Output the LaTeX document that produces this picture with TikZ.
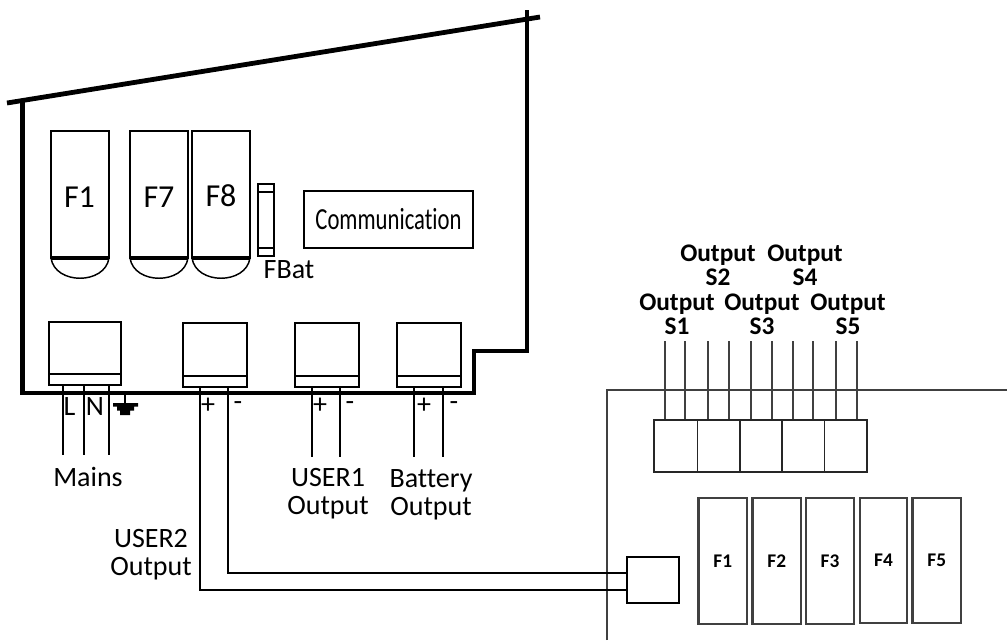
\documentclass[tikz,border=0pt]{standalone}
\usepackage{fontspec}
\setmainfont[Ligatures=NoCommon]{Carlito}
\definecolor{panel}{HTML}{404040}
\tikzset{
  x=0.75pt,y=-0.75pt,
  wall/.style={line width=3.6pt,black,line cap=butt,line join=miter},
  part/.style={draw=black,line width=1.5pt,fill=white,outer sep=0pt,inner sep=0pt},
  wire/.style={draw=black,line width=1.5pt},
  thin wire/.style={draw=panel,line width=0.95pt},
  lab/.style={inner sep=0pt,font=\fontsize{21}{21}\selectfont,align=center,text=black},
  blab/.style={inner sep=0pt,font=\fontsize{19}{18}\selectfont\bfseries,align=center,text=black},
  flab/.style={inner sep=0pt,font=\fontsize{14.5}{15}\selectfont\bfseries,text=black},
  fuselab/.style={inner sep=0pt,font=\fontsize{24}{26}\selectfont,text=black},
}
\newcommand{\fuse}[3]{% name, left, right
  \draw[black,line width=1.1pt] (#2,258) .. controls (#2+4,285) and (#3-4,285) .. (#3,258);
  \draw[black,line width=1.5pt] (#2,131) rectangle (#3,258);
  \draw[black,line width=2.6pt] (#2,258) -- (#3,258);
}
\newcommand{\term}[6]{% name left top right inner bottom
  \node[part,anchor=north west,minimum width={(#4-#2)*0.75pt},minimum height={(#6-#3)*0.75pt}] (#1) at (#2,#3) {};
  \draw[black,line width=1.5pt] (#2,#5) -- (#4,#5);
}
\begin{document}
\begin{tikzpicture}
\useasboundingbox (0,0) rectangle (1007,640);
% main enclosure
\coordinate (tl) at (7,103); \coordinate (tr) at (540,17);
\coordinate (a) at (22.5,100.5); \coordinate (b) at (22.5,393);
\coordinate (c) at (474,393); \coordinate (d) at (474,351);
\coordinate (e) at (527,351); \coordinate (f) at (527,10);
\draw[wall] (tl) -- (tr);
\draw[wall] (a) -- (b) -- (c) -- (d) -- (e) -- (f);
% right panel
\coordinate (p1) at (607,640); \coordinate (p2) at (607,390); \coordinate (p3) at (1007,390);
\draw[panel,line width=1.5pt] (p1) -- (p2) -- (p3);
% fuses
\fuse{f1}{51}{109}
\fuse{f7}{130}{188}
\fuse{f8}{192}{250}
\node[fuselab] (tf1) at (79.5,197) {F1};
\node[fuselab] (tf7) at (159,197) {F7};
\node[fuselab] (tf8) at (221,196) {F8};
% FBat
\node[part,anchor=north west,minimum width=12pt,minimum height=54pt] (fb) at (258,184) {};
\draw[black,line width=1.1pt] (258,192) -- (274,192) (258,248) -- (274,248);
\node[lab] (tfb) at (289,270) {FBat};
% communication
\node[draw=black,line width=1.1pt,outer sep=0pt,inner sep=0pt,minimum width=126.75pt,minimum height=42.75pt,font=\fontsize{23}{25}\selectfont] (comm) at (388.5,219.5) {\scalebox{0.74}[1]{Communication}};
% terminals
\term{tm}{49}{321.5}{120.5}{374}{385}
\term{tu2}{183}{323}{247}{375.5}{387}
\term{tu1}{295}{323}{359}{375.5}{387}
\term{tb}{397}{323}{461}{375.5}{387}
% wires
\coordinate (w1) at (63,455); \coordinate (w2) at (84,455); \coordinate (w3) at (109,455);
\draw[wire] (63,385) -- (w1) (84,385) -- (w2) (109,385) -- (w3);
\coordinate (u1a) at (312,457); \coordinate (u1b) at (340,457);
\coordinate (ba) at (414,457); \coordinate (bb) at (443,457);
\draw[wire] (312,387) -- (u1a) (340,387) -- (u1b) (414,387) -- (ba) (443,387) -- (bb);
% small box
\node[part,anchor=north west,minimum width=39pt,minimum height=34.5pt] (sb) at (627,557) {};
\draw[wire] (200,387) |- (627,590);
\draw[wire] (228,387) |- (627,573);
% labels of terminals
\node[lab] (tL) at (69.5,407) {L};
\node[lab] (tN) at (95,407) {N};
\node[lab] (t1) at (208,406) {+};
\node[lab] (t2) at (238,406) {-};
\node[lab] (t3) at (320,406) {+};
\node[lab] (t4) at (350,406) {-};
\node[lab] (t5) at (424,406) {+};
\node[lab] (t6) at (454,406) {-};
% earth
\coordinate (g0) at (125,395);
\draw[black,line width=1.2pt] (g0) -- (125,404);
\fill[black] (113,403) -- (138,403) -- (138,406.5) -- (134,406.5) -- (134,410.5) -- (130,410.5) -- (130,415) -- (120,415) -- (120,410.5) -- (117,410.5) -- (117,406.5) -- (113,406.5) -- cycle;
% text
\node[lab] (tmains) at (88,477) {Mains};
\node[lab] (tuser1) at (328,494) {USER1\\Output};
\node[lab] (tbat) at (431,495) {Battery\\Output};
\node[lab] (tuser2) at (151,555) {USER2\\Output};
% output wires and terminal block
\foreach \x [count=\i] in {665,685,708,729,751,772,793,813,836,857}
  \draw[thin wire] (\x,341) -- (\x,420);
\draw[black!85,line width=1.1pt] (654,420) rectangle (867,472);
\foreach \x in {697.5,740,782,824.5}
  \draw[black!85,line width=1.1pt] (\x,420) -- (\x,472);
\node[blab] (s2) at (718,265) {Output\\S2};
\node[blab] (s4) at (805,265) {Output\\S4};
\node[blab] (s1) at (677,314) {Output\\S1};
\node[blab] (s3) at (762,314) {Output\\S3};
\node[blab] (s5) at (848,314) {Output\\S5};
% fuse row
\foreach \l/\r/\b/\t/\ty in {698.5/747/624/F1/561,752.5/801/624/F2/561,806/854/624/F3/561,860/907/623/F4/560,912.5/961/623/F5/560}
  \draw[panel,line width=1.8pt] (\l,498) rectangle (\r,\b) node[flab,midway] at ({(\l+\r)/2},\ty) {\t};
\end{tikzpicture}
\end{document}
